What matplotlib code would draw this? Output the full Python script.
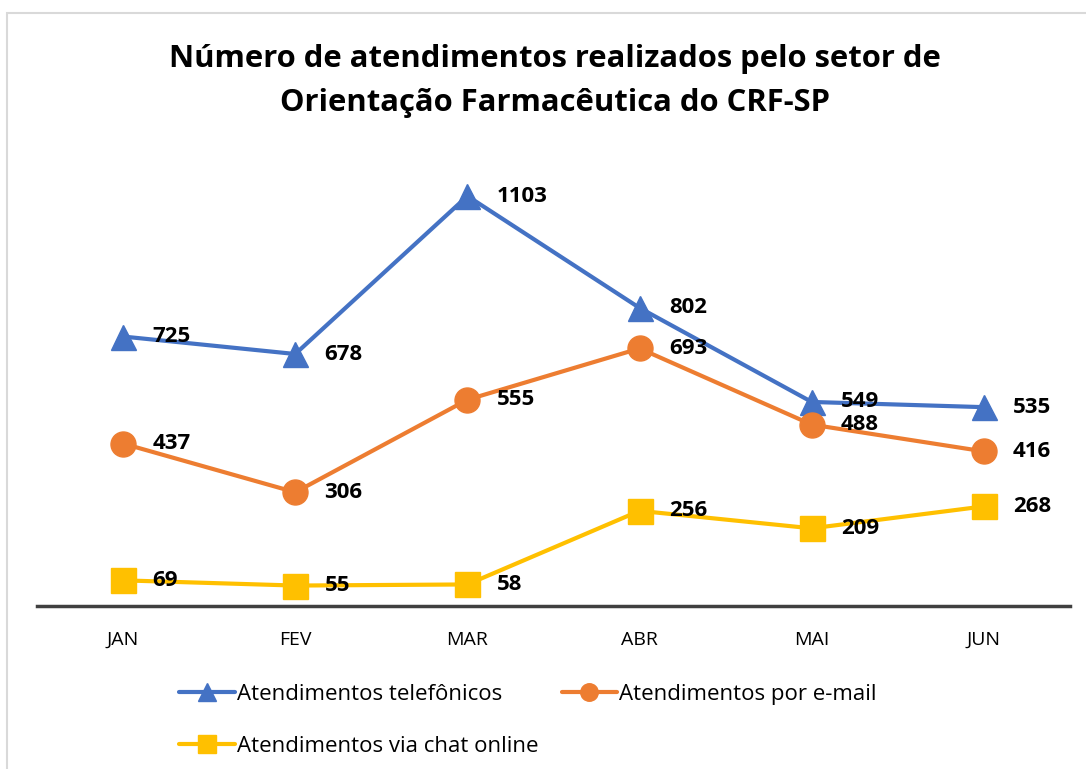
import matplotlib
matplotlib.use("Agg")
import matplotlib.pyplot as plt
from matplotlib.patches import Rectangle

plt.rcParams['font.family'] = ['Open Sans', 'DejaVu Sans']

meses = ["JAN", "FEV", "MAR", "ABR", "MAI", "JUN"]
telefonicos = [725, 678, 1103, 802, 549, 535]
email = [437, 306, 555, 693, 488, 416]
chat = [69, 55, 58, 256, 209, 268]

series = [
    ("Atendimentos telefônicos", telefonicos, "#4472C4", "^"),
    ("Atendimentos por e-mail", email, "#ED7D31", "o"),
    ("Atendimentos via chat online", chat, "#FFC000", "s"),
]

W, H = 1086, 769
fig = plt.figure(figsize=(W / 100, H / 100), dpi=100)
ax = fig.add_axes([37 / W, 1 - 606 / H, (1070 - 37) / W, (606 - 160) / H])

# light frame around the chart
fig.patches.append(Rectangle((7 / W, -0.1), 1.2, 1 - 13 / H + 0.1, transform=fig.transFigure,
                             fill=False, edgecolor="#D9D9D9", linewidth=1.5))

x = list(range(len(meses)))
linhas = []
for nome, vals, cor, mk in series:
    ln, = ax.plot(x, vals, color=cor, linewidth=3, marker=mk, markersize=18,
                  label=nome, solid_capstyle="round")
    linhas.append(ln)
    for xi, v in zip(x, vals):
        ax.annotate(str(v), (xi, v), xytext=(21, 0), textcoords="offset points",
                    ha="left", va="center", fontsize=16, fontweight="bold")

ax.set_xlim(-0.5, len(meses) - 0.5)
ax.set_ylim(0, 1200)
ax.set_xticks(x)
ax.set_xticklabels(meses, fontsize=14)
ax.set_yticks([])
ax.tick_params(axis="x", length=0, pad=18)
for s in ["top", "right", "left"]:
    ax.spines[s].set_visible(False)
ax.spines["bottom"].set_color("#404040")
ax.spines["bottom"].set_linewidth(2.5)
ax.patch.set_alpha(0)

fig.text(555 / W, 1 - 81 / H, "Número de atendimentos realizados pelo setor de\nOrientação Farmacêutica do CRF-SP",
         ha="center", va="center", fontsize=22.3, fontweight="bold", linespacing=1.6)

# order so that rows read: telefônicos, e-mail / chat
ordem = [linhas[0], linhas[2], linhas[1]]
fig.legend(ordem, [l.get_label() for l in ordem], loc="upper left",
           bbox_to_anchor=(159 / W, 1 - 664 / H), ncol=2, frameon=False,
           fontsize=16, handlelength=2.5, handletextpad=0.1, columnspacing=1.05,
           labelspacing=1.4, markerscale=0.7)

fig.savefig("out.png", dpi=100)
